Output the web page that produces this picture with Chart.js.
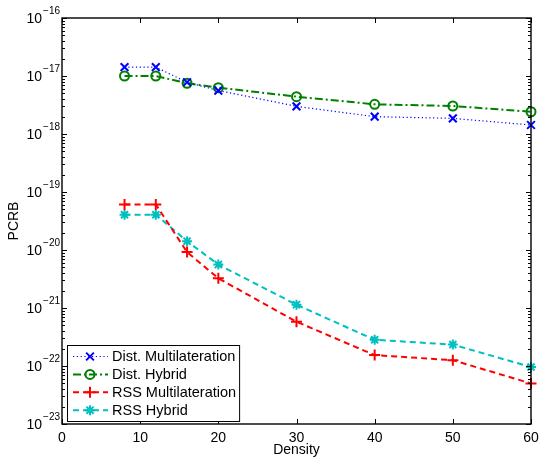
<!DOCTYPE html>
<html>
<head>
<meta charset="utf-8">
<script src="https://cdn.jsdelivr.net/npm/chart.js@4.4.1/dist/chart.umd.min.js"></script>
<style>
    body { margin: 0; background: #fff; }
    canvas { display: block; }
</style>
</head>
<body>
<canvas id="pcrb_chart" width="539" height="459"></canvas>
<script>
const densities = [8, 12, 16, 20, 30, 40, 50, 60];
const distMultilateration = [1.42e-17, 1.42e-17, 7.8e-18, 5.6e-18, 3.0e-18, 1.99e-18, 1.86e-18, 1.43e-18];
const distHybrid = [1.0e-17, 1.0e-17, 7.5e-18, 6.3e-18, 4.4e-18, 3.25e-18, 3.04e-18, 2.42e-18];
const rssMultilateration = [6.1e-20, 6.1e-20, 9.2e-21, 3.25e-21, 5.8e-22, 1.54e-22, 1.26e-22, 5.0e-23];
const rssHybrid = [4.06e-20, 4.06e-20, 1.42e-20, 5.6e-21, 1.14e-21, 2.83e-22, 2.34e-22, 9.6e-23];

const xTicks = [0, 10, 20, 30, 40, 50, 60];
const yTickExponents = [-23, -22, -21, -20, -19, -18, -17, -16];

const FONT = "'Liberation Sans', Arial, Helvetica, sans-serif";

function toPoints(values) {
    return densities.map((d, i) => ({x: d, y: values[i]}));
}

// axes box, inward ticks on all four sides, and 10^n labels
const matlabAxes = {
    id: 'matlabAxes',
    afterDatasetsDraw(chart) {
        const {ctx, chartArea: a, scales: {x, y}} = chart;
        ctx.save();
        ctx.strokeStyle = '#000';
        ctx.lineWidth = 1;
        ctx.beginPath();
        xTicks.forEach((t) => {
            const px = Math.round(x.getPixelForValue(t)) + 0.5;
            ctx.moveTo(px, a.bottom); ctx.lineTo(px, a.bottom - 5);
            ctx.moveTo(px, a.top); ctx.lineTo(px, a.top + 5);
        });
        yTickExponents.forEach((e) => {
            const steps = e === yTickExponents[yTickExponents.length - 1] ? [1] : [1, 2, 3, 4, 5, 6, 7, 8, 9];
            steps.forEach((k) => {
                const py = Math.round(y.getPixelForValue(k * Math.pow(10, e))) + 0.5;
                const len = k === 1 ? 5 : 3;
                ctx.moveTo(a.left, py); ctx.lineTo(a.left + len, py);
                ctx.moveTo(a.right, py); ctx.lineTo(a.right - len, py);
            });
        });
        ctx.stroke();

        ctx.lineWidth = 1.4;
        ctx.strokeRect(a.left, a.top, a.right - a.left, a.bottom - a.top);

        ctx.fillStyle = '#000';
        ctx.textAlign = 'left';
        ctx.textBaseline = 'alphabetic';
        yTickExponents.forEach((e) => {
            const py = y.getPixelForValue(Math.pow(10, e));
            const exp = '\u2212' + Math.abs(e);
            ctx.font = '10px ' + FONT;
            const expW = ctx.measureText(exp).width;
            const expX = a.left - 2 - expW;
            ctx.fillText(exp, expX, py - 4.5);
            ctx.font = '14px ' + FONT;
            const baseW = ctx.measureText('10').width;
            ctx.fillText('10', expX - 1 - baseW, py + 5);
        });
        ctx.restore();
    }
};

// legend box in the lower left corner, line samples with markers
const insetLegend = {
    id: 'insetLegend',
    afterDraw(chart) {
        const {ctx, chartArea: a} = chart;
        const sets = chart.data.datasets;
        const rowH = 17.9;
        const boxL = a.left + 5;
        const boxB = a.bottom - 3;
        const boxH = 76;
        const boxT = boxB - boxH;
        ctx.save();
        ctx.font = '14.5px ' + FONT;
        const textW = Math.max(...sets.map((s) => ctx.measureText(s.label).width));
        const textX = boxL + 45;
        const boxW = textX - boxL + textW + 3;
        ctx.fillStyle = '#fff';
        ctx.fillRect(boxL, boxT, boxW, boxH);
        ctx.strokeStyle = '#000';
        ctx.lineWidth = 1;
        ctx.strokeRect(boxL + 0.5, boxT + 0.5, boxW, boxH);

        sets.forEach((s, i) => {
            const cy = boxT + 11.5 + i * rowH;
            ctx.save();
            ctx.strokeStyle = s.borderColor;
            ctx.lineWidth = s.borderWidth;
            ctx.setLineDash(s.borderDash);
            ctx.beginPath();
            ctx.moveTo(boxL + 6, cy);
            ctx.lineTo(boxL + 41, cy);
            ctx.stroke();
            ctx.setLineDash([]);
            ctx.lineWidth = s.pointBorderWidth;
            ctx.fillStyle = 'rgba(0,0,0,0)';
            Chart.helpers.drawPoint(ctx, {
                pointStyle: s.pointStyle,
                radius: s.pointRadius,
                rotation: 0,
                borderWidth: s.pointBorderWidth
            }, boxL + 23, cy);
            ctx.restore();
            ctx.fillStyle = '#000';
            ctx.textBaseline = 'middle';
            ctx.fillText(s.label, textX, cy + 0.5);
        });
        ctx.restore();
    }
};

function series(label, values, colour, dash, width, style, radius) {
    return {
        label: label,
        data: toPoints(values),
        borderColor: colour,
        borderWidth: width,
        borderDash: dash,
        pointStyle: style,
        pointRadius: radius,
        pointHoverRadius: radius,
        pointBorderWidth: 2,
        pointBorderColor: colour,
        pointBackgroundColor: 'rgba(0,0,0,0)',
        fill: false,
        tension: 0,
        clip: false
    };
}

const ctx = document.getElementById('pcrb_chart').getContext('2d');
new Chart(ctx, {
    type: 'line',
    data: {
        datasets: [
            series('Dist. Multilateration', distMultilateration, '#0000ff', [1.2, 2.6], 1.2, 'crossRot', 5.5),
            series('Dist. Hybrid', distHybrid, '#008000', [8, 3, 2, 3], 2, 'circle', 4.5),
            series('RSS Multilateration', rssMultilateration, '#ff0000', [6, 4], 2, 'cross', 5.5),
            series('RSS Hybrid', rssHybrid, '#00bfbf', [6, 4], 2, 'star', 5)
        ]
    },
    options: {
        responsive: false,
        animation: false,
        events: [],
        layout: {
            padding: {left: 0, top: 18, right: 8, bottom: 0}
        },
        plugins: {
            legend: {display: false},
            tooltip: {enabled: false}
        },
        scales: {
            x: {
                type: 'linear',
                min: 0,
                max: 60,
                afterFit: (scale) => {
                    scale.height = 35;
                    scale.paddingLeft = 0;
                    scale.paddingRight = 0;
                },
                afterBuildTicks: (scale) => { scale.ticks = xTicks.map((v) => ({value: v})); },
                grid: {display: false, drawTicks: false},
                border: {display: false},
                ticks: {
                    color: '#000',
                    padding: 6,
                    maxRotation: 0,
                    font: {family: FONT, size: 14}
                },
                title: {
                    display: true,
                    text: 'Density',
                    color: '#000',
                    padding: {top: 0, bottom: 0},
                    font: {family: FONT, size: 14}
                }
            },
            y: {
                type: 'logarithmic',
                min: 1e-23,
                max: 1e-16,
                afterFit: (scale) => { scale.width = 62; },
                grid: {display: false, drawTicks: false},
                border: {display: false},
                ticks: {display: false},
                title: {
                    display: true,
                    text: 'PCRB',
                    color: '#000',
                    padding: {top: 5.5, bottom: 0},
                    font: {family: FONT, size: 14}
                }
            }
        }
    },
    plugins: [matlabAxes, insetLegend]
});
</script>
</body>
</html>
